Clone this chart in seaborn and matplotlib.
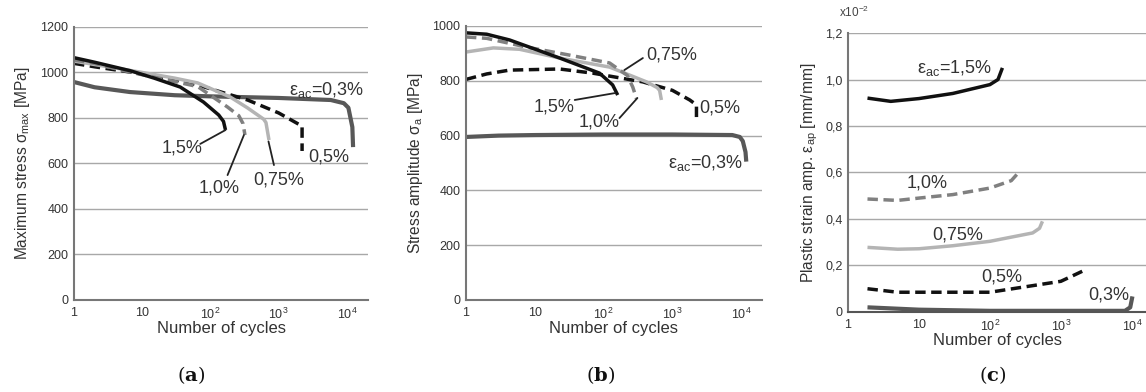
import numpy as np
import pandas as pd
import matplotlib
matplotlib.use("Agg")
import matplotlib.pyplot as plt
import seaborn as sns

sns.set_style("white")
plt.rcParams['font.family'] = ['Liberation Sans', 'DejaVu Sans']
plt.rcParams['mathtext.fontset'] = 'custom'
plt.rcParams['mathtext.rm'] = 'Liberation Sans'
plt.rcParams['mathtext.it'] = 'Liberation Sans:italic'
plt.rcParams['mathtext.bf'] = 'DejaVu Serif:bold'

# ---------------- data ----------------
series = ["0.3%", "0.5%", "0.75%", "1.0%", "1.5%"]

# (a) Maximum stress
a_x_03 = [1, 2, 6.6, 30, 100, 1000, 5800, 9000, 10500, 12000, 12300]
a_y_03 = [958, 935, 914, 900, 895, 888, 879, 865, 845, 760, 672]
a_x_05 = [1, 2, 6.6, 20, 65, 350, 1000, 1900, 2200, 2200]
a_y_05 = [1040, 1025, 1002, 978, 945, 879, 822, 775, 765, 655]
a_x_075 = [1, 2, 5, 10, 30, 65, 195, 350, 600, 650, 720]
a_y_075 = [1050, 1035, 1015, 1000, 975, 954, 892, 844, 795, 780, 703]
a_x_10 = [1, 2, 5, 10, 30, 65, 178, 260, 300, 320]
a_y_10 = [1055, 1040, 1010, 990, 960, 938, 848, 810, 775, 725]
a_x_15 = [1, 2, 6.6, 15, 36, 79, 132, 155, 166]
a_y_15 = [1065, 1045, 1008, 975, 936, 870, 813, 785, 747]

# (b) Stress amplitude
b_x_03 = [1, 3, 10, 100, 1000, 7400, 9500, 10500, 11500, 11800]
b_y_03 = [595, 600, 602, 604, 604, 602, 595, 580, 540, 505]
b_x_05 = [1, 2, 4.3, 23, 69, 370, 1000, 1780, 2230, 2230]
b_y_05 = [805, 825, 839, 843, 828, 796, 765, 730, 712, 665]
b_x_075 = [1, 2.5, 6, 23, 122, 420, 600, 650, 690]
b_y_075 = [905, 920, 915, 883, 850, 796, 775, 765, 730]
b_x_10 = [1, 2, 7.6, 30, 122, 220, 265, 300]
b_y_10 = [960, 955, 923, 895, 865, 820, 777, 735]
b_x_15 = [1, 2, 4.3, 23, 87, 135, 160]
b_y_15 = [975, 970, 949, 883, 828, 785, 748]

# (c) Plastic strain amplitude (x10^-2)
c_x_03 = [1.88, 10, 100, 1000, 8000, 9500, 10200]
c_y_03 = [0.02, 0.01, 0.005, 0.005, 0.005, 0.02, 0.067]
c_x_05 = [1.88, 5, 100, 1000, 2000]
c_y_05 = [0.10, 0.085, 0.085, 0.132, 0.175]
c_x_075 = [1.88, 5, 10, 30, 100, 400, 500, 550]
c_y_075 = [0.278, 0.27, 0.272, 0.285, 0.304, 0.34, 0.36, 0.39]
c_x_10 = [1.88, 5, 10, 30, 100, 200, 250]
c_y_10 = [0.486, 0.48, 0.49, 0.505, 0.533, 0.565, 0.598]
c_x_15 = [1.88, 4, 10, 30, 100, 130, 150]
c_y_15 = [0.92, 0.906, 0.918, 0.94, 0.978, 1.00, 1.05]

xtick_vals = [1, 10, 100, 1000, 10000]
xtick_labels = ["1", "10", "10$^2$", "10$^3$", "10$^4$"]
a_yticks = [0, 200, 400, 600, 800, 1000, 1200]
b_yticks = [0, 200, 400, 600, 800, 1000]
c_yticks = [0, 0.2, 0.4, 0.6, 0.8, 1.0, 1.2]
c_ytick_labels = ["0", "0,2", "0,4", "0,6", "0,8", "1,0", "1,2"]

styles = {
    "0.3%": dict(color="#585858", lw=3.0, dash=None),
    "0.5%": dict(color="#111111", lw=2.5, dash=(3.0, 1.6)),
    "0.75%": dict(color="#b4b4b4", lw=2.5, dash=None),
    "1.0%": dict(color="#808080", lw=2.5, dash=(3.0, 1.6)),
    "1.5%": dict(color="#111111", lw=2.5, dash=None),
}

def build(xs, ys):
    frames = []
    for s, x, y in zip(series, xs, ys):
        frames.append(pd.DataFrame({"cycles": x, "value": y, "series": s,
                                    "order": np.arange(len(x))}))
    return pd.concat(frames, ignore_index=True)

df_a = build([a_x_03, a_x_05, a_x_075, a_x_10, a_x_15],
             [a_y_03, a_y_05, a_y_075, a_y_10, a_y_15])
df_b = build([b_x_03, b_x_05, b_x_075, b_x_10, b_x_15],
             [b_y_03, b_y_05, b_y_075, b_y_10, b_y_15])
df_c = build([c_x_03, c_x_05, c_x_075, c_x_10, c_x_15],
             [c_y_03, c_y_05, c_y_075, c_y_10, c_y_15])

fig = plt.figure(figsize=(11.46, 3.92), dpi=100)
ax_a = fig.add_axes([0.0646, 0.2347, 0.2566, 0.6965])
ax_b = fig.add_axes([0.4066, 0.2347, 0.2583, 0.6990])
ax_c = fig.add_axes([0.7400, 0.2041, 0.2600, 0.7117])

draw_order = ["0.3%", "0.5%", "0.75%", "1.0%", "1.5%"]

def draw(ax, df):
    for s in draw_order:
        sub = df[df.series == s]
        st = styles[s]
        sns.lineplot(data=sub, x="cycles", y="value", ax=ax, color=st["color"],
                     lw=st["lw"], estimator=None, sort=False,
                     solid_capstyle="butt", legend=False)
        ln = ax.lines[-1]
        if st["dash"] is not None:
            ln.set_dashes(st["dash"])
            ln.set_dash_capstyle("butt")

def style_axes(ax, ylim, yticks, ylabels, xmax):
    ax.set_xscale("log")
    ax.set_xlim(1, xmax)
    ax.set_ylim(*ylim)
    ax.set_xticks(xtick_vals)
    ax.set_xticklabels(xtick_labels)
    ax.xaxis.set_minor_locator(matplotlib.ticker.NullLocator())
    ax.set_yticks(yticks)
    ax.set_yticklabels(ylabels)
    ax.yaxis.grid(True, color="#a8a8a8", lw=1.0)
    ax.xaxis.grid(False)
    ax.set_axisbelow(True)
    for sp in ["top", "right"]:
        ax.spines[sp].set_visible(False)
    for sp in ["left", "bottom"]:
        ax.spines[sp].set_color("#777777")
        ax.spines[sp].set_linewidth(1.5)
    ax.tick_params(axis="x", direction="in", length=4, width=1.2, color="#777777",
                   labelsize=9, labelcolor="#333333", pad=5)
    ax.tick_params(axis="y", length=0, labelsize=9, labelcolor="#333333", pad=4)
    ax.set_xlabel("Number of cycles", fontsize=12, color="#333333", labelpad=-1)

draw(ax_a, df_a)
draw(ax_b, df_b)
draw(ax_c, df_c)

style_axes(ax_a, (0, 1200), a_yticks, [str(v) for v in a_yticks], 10 ** 4.31)
style_axes(ax_b, (0, 1000), b_yticks, [str(v) for v in b_yticks], 10 ** 4.3)
style_axes(ax_c, (0, 1.2), c_yticks, c_ytick_labels, 10 ** 4.2)
ax_c.spines["bottom"].set_color("#555555")

ax_a.set_ylabel("Maximum stress σ$_{\\rm max}$ [MPa]", fontsize=11.2, color="#333333", labelpad=6)
ax_b.set_ylabel("Stress amplitude σ$_{\\rm a}$ [MPa]", fontsize=11.2, color="#333333", labelpad=5)
ax_c.set_ylabel("Plastic strain amp. ε$_{\\rm ap}$ [mm/mm]", fontsize=11.2, color="#333333", labelpad=4)

fig.text(0.7455, 0.948, "x10$^{-2}$", fontsize=8.5, color="#444444", ha="center", va="bottom")

tk = dict(fontsize=13, color="#333333")
lk = dict(color="#222222", lw=1.3)
# annotations (a)
ax_a.text(10 ** 3.15, 925, "ε$_{\\rm ac}$=0,3%", ha="left", va="center", **tk)
ax_a.text(10 ** 3.44, 630, "0,5%", ha="left", va="center", **tk)
ax_a.text(10 ** 3.0, 527, "0,75%", ha="center", va="center", **tk)
ax_a.plot([10 ** 2.85, 10 ** 2.93], [697, 593], **lk)
ax_a.text(10 ** 2.13, 492, "1,0%", ha="center", va="center", **tk)
ax_a.plot([10 ** 2.49, 10 ** 2.25], [725, 549], **lk)
ax_a.text(10 ** 1.59, 668, "1,5%", ha="center", va="center", **tk)
ax_a.plot([10 ** 2.22, 10 ** 1.85], [747, 686], **lk)

# annotations (b)
ax_b.text(10 ** 2.99, 894, "0,75%", ha="center", va="center", **tk)
ax_b.plot([10 ** 2.57, 10 ** 2.30], [883, 839], **lk)
ax_b.text(10 ** 3.39, 700, "0,5%", ha="left", va="center", **tk)
ax_b.text(10 ** 1.28, 704, "1,5%", ha="center", va="center", **tk)
ax_b.plot([10 ** 1.58, 10 ** 2.16], [730, 755], **lk)
ax_b.text(10 ** 1.94, 650, "1,0%", ha="center", va="center", **tk)
ax_b.plot([10 ** 2.23, 10 ** 2.49], [664, 737], **lk)
ax_b.text(10 ** 2.93, 500, "ε$_{\\rm ac}$=0,3%", ha="left", va="center", **tk)

# annotations (c)
ax_c.text(10 ** 0.975, 1.05, "ε$_{\\rm ac}$=1,5%", ha="left", va="center", **tk)
ax_c.text(10 ** 0.83, 0.555, "1,0%", ha="left", va="center", **tk)
ax_c.text(10 ** 1.19, 0.331, "0,75%", ha="left", va="center", **tk)
ax_c.text(10 ** 1.88, 0.15, "0,5%", ha="left", va="center", **tk)
ax_c.text(10 ** 3.38, 0.073, "0,3%", ha="left", va="center", **tk)

# panel labels
pl = dict(fontsize=14, family="DejaVu Serif", color="#111111", ha="center", va="center")
fig.text(191 / 1146, 1 - 375 / 392, "($\\mathbf{a}$)", **pl)
fig.text(601 / 1146, 1 - 375 / 392, "($\\mathbf{b}$)", **pl)
fig.text(993 / 1146, 1 - 375 / 392, "($\\mathbf{c}$)", **pl)

fig.savefig("out.png", dpi=100)
